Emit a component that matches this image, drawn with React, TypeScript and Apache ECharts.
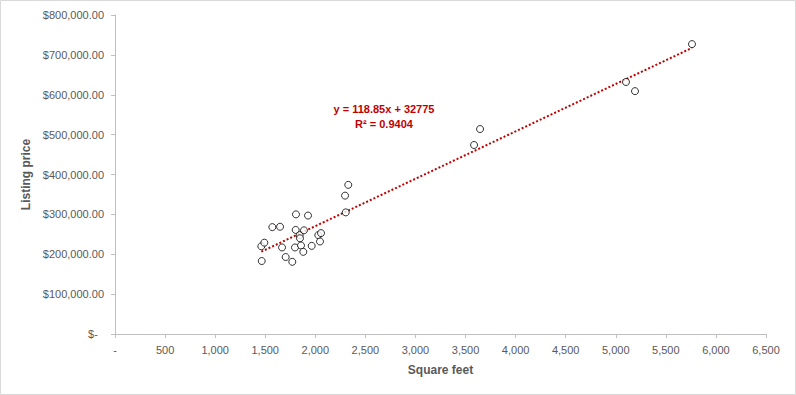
import React, { useEffect, useRef } from "react";
import * as echarts from "echarts";

const sqft = [1465, 1461, 1491, 1571, 1648, 1668, 1704, 1770, 1804, 1807, 1844, 1847, 1797, 1857, 1887, 1880, 1927, 1964, 2030, 2057, 2047, 2297, 2304, 2329, 3585, 3645, 5102, 5192, 5761];
const price = [183000, 220000, 229000, 268000, 269000, 217000, 193000, 181000, 261000, 300000, 248000, 240000, 217000, 222000, 260000, 206000, 297000, 221000, 248000, 253000, 232000, 347000, 305000, 374000, 474000, 514000, 632000, 609000, 727000];
const slope = 118.85;
const intercept = 32775;
const r2 = 0.9404;
const xTitle = "Square feet";
const yTitle = "Listing price";

export default function App() {
  const ref = useRef<HTMLDivElement>(null);
  useEffect(() => {
    document.body.style.margin = "0";
    const chart = echarts.init(ref.current!, undefined, { renderer: "svg" });
    const pts = sqft.map((x, i) => [x, price[i]]);
    const xmin = Math.min(...sqft);
    const xmax = Math.max(...sqft);
    const trend = [
      [xmin, slope * xmin + intercept],
      [xmax, slope * xmax + intercept],
    ];
    const font = "Liberation Sans";
    chart.setOption({
      animation: false,
      textStyle: { fontFamily: font },
      grid: { left: 115, right: 30, top: 15, bottom: 61 },
      xAxis: {
        type: "value",
        min: 0,
        max: 6500,
        interval: 500,
        name: xTitle,
        nameLocation: "middle",
        nameGap: 30,
        nameTextStyle: { color: "#595959", fontSize: 12, fontWeight: "bold", fontFamily: font },
        splitLine: { show: false },
        axisLine: { show: true, lineStyle: { color: "#bfbfbf" } },
        axisTick: { show: true, length: 4, lineStyle: { color: "#bfbfbf" } },
        axisLabel: {
          color: "#595959",
          fontSize: 11,
          margin: 10,
          formatter: (v: number) => (v === 0 ? "-" : v.toLocaleString("en-US")),
        },
      },
      yAxis: {
        type: "value",
        min: 0,
        max: 800000,
        interval: 100000,
        name: yTitle,
        nameLocation: "middle",
        nameGap: 83,
        nameRotate: 90,
        nameTextStyle: { color: "#595959", fontSize: 12, fontWeight: "bold", fontFamily: font },
        splitLine: { show: false },
        axisLine: { show: true, lineStyle: { color: "#bfbfbf" } },
        axisTick: { show: true, length: 4, lineStyle: { color: "#bfbfbf" } },
        axisLabel: {
          color: "#595959",
          fontSize: 11,
          margin: 11,
          formatter: (v: number) =>
            v === 0
              ? "$-\u00a0\u00a0"
              : "$" + v.toLocaleString("en-US", { minimumFractionDigits: 2, maximumFractionDigits: 2 }),
        },
      },
      graphic: [
        {
          type: "rect",
          shape: { x: 0.5, y: 0.5, width: 795, height: 394 },
          style: { fill: "none", stroke: "#d9d9d9", lineWidth: 1 },
          silent: true,
        },
        {
          type: "text",
          x: 384,
          y: 116,
          style: {
            text: `y = ${slope}x + ${intercept}\nR² = ${r2}`,
            fill: "#c00000",
            font: `bold 11px "${font}"`,
            align: "center",
            verticalAlign: "middle",
            lineHeight: 15,
          },
        },
      ],
      series: [
        {
          type: "line",
          data: trend,
          symbol: "none",
          lineStyle: { color: "#c00000", width: 2, type: [2, 2] },
          z: 1,
        },
        {
          type: "scatter",
          data: pts,
          symbol: "circle",
          symbolSize: 7,
          itemStyle: { color: "#ffffff", borderColor: "#000000", borderWidth: 1 },
          z: 2,
        },
      ],
    });
    return () => chart.dispose();
  }, []);
  return <div ref={ref} style={{ width: 796, height: 395 }} />;
}
